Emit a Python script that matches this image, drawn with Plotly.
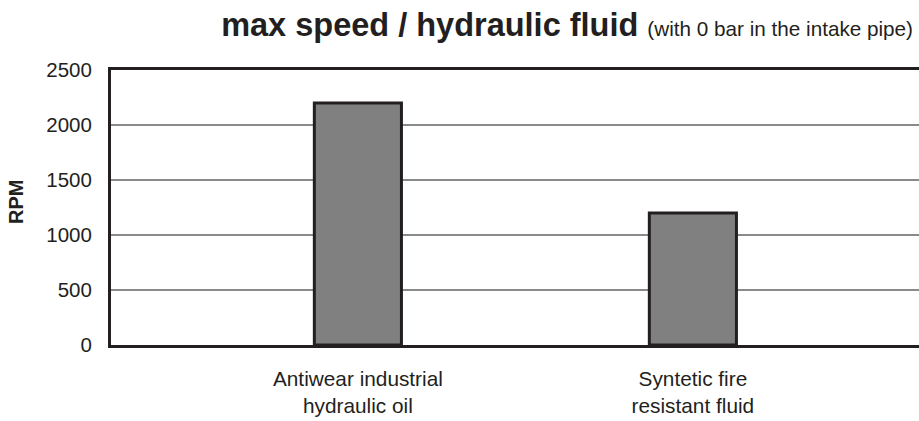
import plotly.graph_objects as go

categories = ["Antiwear industrial<br>hydraulic oil", "Syntetic fire<br>resistant fluid"]
rpm_values = [2200, 1200]
y_ticks = [0, 500, 1000, 1500, 2000, 2500]

FONT = "Liberation Sans, Arial, Helvetica, sans-serif"
INK = "#231f20"

fig = go.Figure()
fig.add_trace(go.Bar(
    x=[0, 1],
    y=rpm_values,
    width=0.26,
    marker=dict(color="#808080", line=dict(color=INK, width=3)),
    hoverinfo="skip",
))

fig.update_layout(
    width=919, height=421,
    margin=dict(l=111, r=0, t=70, b=76),
    paper_bgcolor="white", plot_bgcolor="white",
    showlegend=False,
    font=dict(family=FONT, color=INK, size=21),
    title=dict(
        text="<b>max speed / hydraulic fluid</b> <span style='font-size:20.7px'>(with 0 bar in the intake pipe)</span>",
        font=dict(family=FONT, size=32.5, color=INK),
        x=(913) / 919, xanchor="right", xref="container",
        y=1 - 25 / 421, yanchor="middle", yref="container",
    ),
    xaxis=dict(
        range=[-0.737, 1.675],
        tickmode="array", tickvals=[0, 1], ticktext=categories,
        showgrid=False, zeroline=False,
        showline=True, linecolor=INK, linewidth=3, mirror=True,
        ticks="", ticklabelstandoff=13,
        tickfont=dict(size=20.8, color=INK),
    ),
    yaxis=dict(
        range=[0, 2500],
        tickmode="array", tickvals=y_ticks,
        showgrid=True, gridcolor="#8a8a8a", gridwidth=1.5,
        zeroline=False,
        showline=True, linecolor=INK, linewidth=3,
        ticks="", ticklabelstandoff=12,
        tickfont=dict(size=20.5, color=INK),
    ),
    annotations=[dict(
        text="<b>RPM</b>", textangle=-90,
        xref="paper", yref="paper",
        x=(16 - 111) / 808, y=(344 - 201) / 275,
        xanchor="center", yanchor="middle", showarrow=False,
        font=dict(family=FONT, size=20, color=INK),
    )],
)

fig.write_html("out.html", config={"displayModeBar": False},
               post_script="document.body.style.margin='0px';")
